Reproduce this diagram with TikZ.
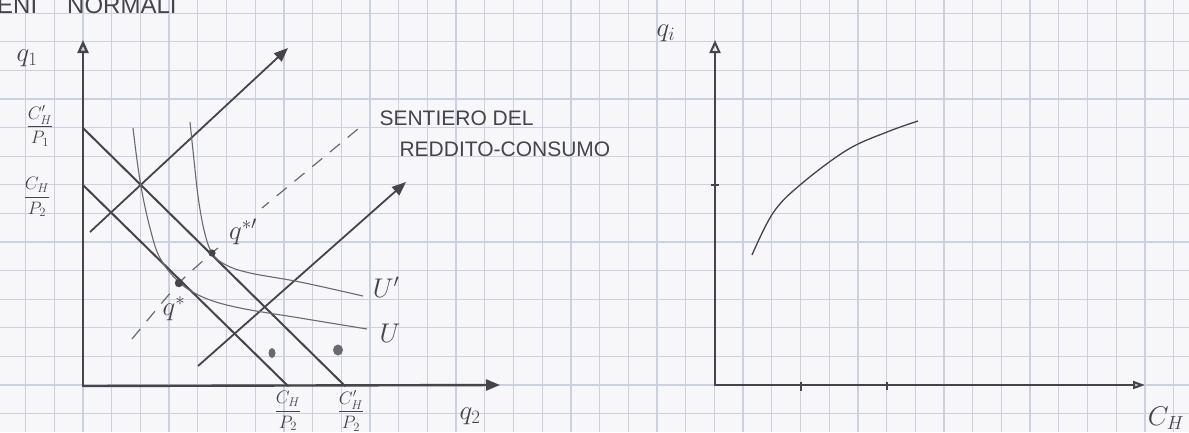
\RequirePackage{fix-cm}
\documentclass[tikz,border=0pt]{standalone}
\usepackage{amsmath}
\usepackage{fontspec}
\setsansfont{Liberation Sans}
\usetikzlibrary{arrows.meta,calc}
\definecolor{pencil}{RGB}{68,68,74}
\definecolor{softpencil}{RGB}{105,105,112}
\definecolor{gridblue}{RGB}{203,209,222}
\definecolor{paper}{RGB}{247,247,250}
\tikzset{
  axisline/.style={draw=pencil, line width=2.4pt, line cap=round},
  axistip/.style={-{Triangle[length=13pt,width=11pt,open]}},
  arrowline/.style={draw=pencil, line width=1.8pt, -{Triangle[length=14pt,width=11pt]}},
  budget/.style={draw=pencil, line width=2pt, line cap=round},
  icurve/.style={draw=softpencil, line width=1.1pt},
  pathline/.style={draw=softpencil, line width=1.2pt, dash pattern=on 13pt off 10pt},
  mathlbl/.style={text=pencil, font=\fontsize{27}{30}\selectfont, inner sep=1pt},
  fraclbl/.style={text=pencil, font=\fontsize{18}{20}\selectfont, inner sep=0pt},
  hand/.style={text=pencil, font=\sffamily\fontsize{21}{24}\selectfont},
  dotpt/.style={fill=pencil},
}
\begin{document}
\begin{tikzpicture}[x=1pt,y=-1pt]
\useasboundingbox (0,0) rectangle (1189,432);
\fill[paper] (0,0) rectangle (1189,432);
% graph paper
\foreach \k in {-2,...,38} {\draw[gridblue, line width=1.3pt] ({83+28.7*\k},0) -- ({83+28.7*\k},432);}
\foreach \k in {-1,...,13} {\draw[gridblue, line width=1.3pt] (0,{385-28.6*\k}) -- (1189,{385-28.6*\k});}

% title (cut at the top)
\node[hand, anchor=base west, inner sep=0pt, font=\sffamily\fontsize{24}{26}\selectfont] (title) at (-3,13) {ENI\hspace{30pt}NORMALI};

% ---------------- left plot ----------------
\coordinate (O1) at (83,386);
\coordinate (Y1) at (83,40);
\coordinate (X1) at (500,385);
\draw[axisline, axistip] (O1) -- (Y1);
\draw[axisline, -{Triangle[length=14pt,width=11pt]}] (O1) -- (X1);

% budget lines
\coordinate (b1y) at (83,128);
\coordinate (b1x) at (345,386);
\coordinate (b0y) at (83,185);
\coordinate (b0x) at (288,386);
\draw[budget] (b1y) -- (b1x);
\draw[budget] (b0y) -- (b0x);

% diagonal arrows
\coordinate (a1s) at (90,232);
\coordinate (a1e) at (288,48);
\coordinate (a2s) at (198,366);
\coordinate (a2e) at (406,182);
\draw[arrowline] (a1s) -- (a1e);
\draw[arrowline] (a2s) -- (a2e);

% indifference curves
\draw[icurve] plot[smooth, tension=0.6] coordinates {(133,128) (137,160) (142,192) (150,228) (160,258) (180,283) (205,298) (240,308) (300,318) (367,329)};
\draw[icurve] plot[smooth, tension=0.6] coordinates {(190,122) (194,160) (198,196) (204,230) (212,253) (226,265) (250,273) (300,282) (363,296)};

% optima
\coordinate (qs) at (179,283);
\coordinate (qsp) at (212,253);

% income-consumption path (broken where the label q*' is written)
\coordinate (ps) at (132,339);
\coordinate (pm) at (218,248);
\coordinate (pn) at (262,208);
\coordinate (pe) at (364,124);
\draw[pathline] plot[smooth, tension=0.4] coordinates {(ps) (qs) (qsp) (pm)};
\draw[pathline, dash phase=4pt] (pn) -- (pe);

\fill[dotpt] (qs) circle (4.2);
\fill[dotpt] (qsp) circle (3.6);

% small marks
\fill[softpencil] (272,353) ellipse (3.5 and 5);
\fill[softpencil] (338,350) ellipse (5 and 5.5);

% labels
\node[mathlbl] (lq1) at (27,58) {$q_1$};
\node[fraclbl] (lyb1) at (40,126) {$\dfrac{C_H'}{P_1}$};
\node[fraclbl] (lyb0) at (37,197) {$\dfrac{C_H}{P_2}$};
\node[fraclbl] (lxb0) at (288,411) {$\dfrac{C_H}{P_2}$};
\node[fraclbl] (lxb1) at (351,411) {$\dfrac{C_H'}{P_2}$};
\node[mathlbl] (lq2) at (470,416) {$q_2$};
\node[mathlbl] (lqs) at (174,309) {$q^{*}$};
\node[mathlbl] (lqsp) at (243,232) {$q^{*\prime}$};
\node[mathlbl] (lU1) at (386,287) {$U'$};
\node[mathlbl] (lU0) at (390,333) {$U$};
\node[hand, anchor=west] (sent1) at (376,118) {SENTIERO DEL};
\node[hand, anchor=west] (sent2) at (396,149) {REDDITO-CONSUMO};

% ---------------- right plot ----------------
\coordinate (O2) at (715,385);
\coordinate (Y2) at (715,40);
\coordinate (X2) at (1145,385);
\draw[axisline, line width=2pt, axistip] (O2) -- (Y2);
\draw[axisline, line width=2pt, -{Triangle[length=12pt,width=8pt,open]}] (O2) -- (X2);
\coordinate (t1) at (801,385);
\coordinate (t2) at (887,385);
\draw[pencil, line width=2pt] ($(t1)+(0,-3)$) -- ($(t1)+(0,6)$);
\draw[pencil, line width=2pt] ($(t2)+(0,-3)$) -- ($(t2)+(0,5)$);
\coordinate (ty) at (715,185);
\draw[pencil, line width=2pt] ($(ty)+(-4,0)$) -- ($(ty)+(4,0)$);
\draw[icurve, draw=pencil, line width=1.3pt] plot[smooth, tension=0.6] coordinates {(752,255) (773,213) (800,185) (847,150) (887,132) (918,121)};
\node[mathlbl] (lqi) at (666,33) {$q_i$};
\node[mathlbl] (lCH) at (1166,418) {$C_H$};
\end{tikzpicture}
\end{document}
